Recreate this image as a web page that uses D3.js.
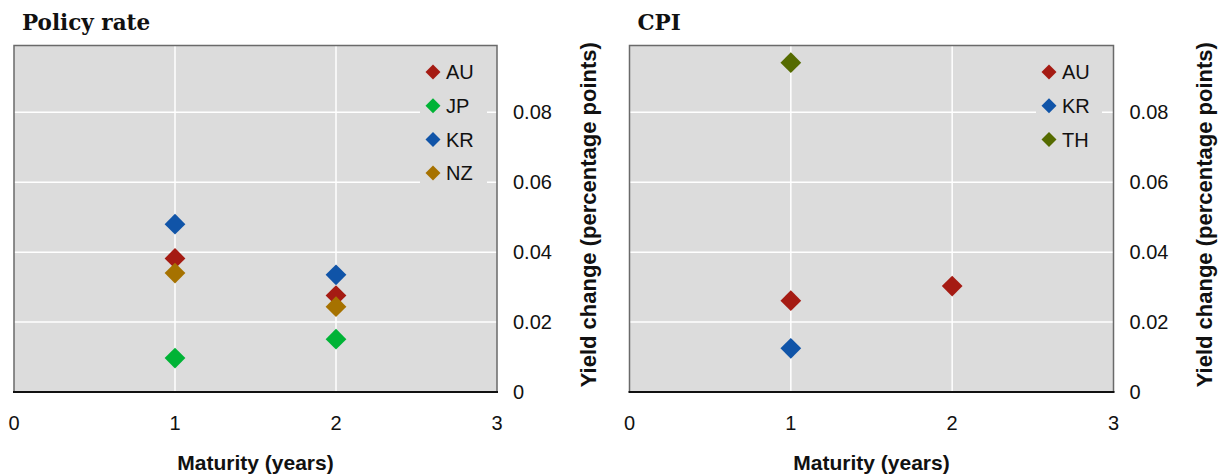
<!DOCTYPE html>
<html><head><meta charset="utf-8">
<script src="https://cdn.jsdelivr.net/npm/d3@7/dist/d3.min.js"></script>
<style>body{margin:0;background:#fff}svg{display:block}</style>
</head><body><svg id="c" width="1226" height="474"></svg>
<script>
const xTicks = [0, 1, 2, 3];
const yTicks = [0, 0.02, 0.04, 0.06, 0.08];
const yTickLabels = ["0", "0.02", "0.04", "0.06", "0.08"];

const policyCountries = ["AU", "JP", "KR", "NZ"];
const policyMaturity = [1, 2];
const policyAU = [0.0382, 0.0276];
const policyJP = [0.0097, 0.0151];
const policyKR = [0.048, 0.0335];
const policyNZ = [0.034, 0.0244];

const cpiCountries = ["AU", "KR", "TH"];
const cpiAUMaturity = [1, 2];
const cpiAU = [0.0261, 0.0303];
const cpiKRMaturity = [1];
const cpiKR = [0.0125];
const cpiTHMaturity = [1];
const cpiTH = [0.0942];

const colors = {AU: "#a51b13", JP: "#00b336", KR: "#1054a8", NZ: "#a67200", TH: "#556b00"};

const panels = [
  {title: "Policy rate", x0: 14, x1: 497, legendBox: [420, 52, 67, 136],
   series: [
     {name: "AU", xs: policyMaturity, ys: policyAU},
     {name: "JP", xs: policyMaturity, ys: policyJP},
     {name: "KR", xs: policyMaturity, ys: policyKR},
     {name: "NZ", xs: policyMaturity, ys: policyNZ}]},
  {title: "CPI", x0: 629.5, x1: 1113.5, legendBox: [1036, 52, 66, 102],
   series: [
     {name: "AU", xs: cpiAUMaturity, ys: cpiAU},
     {name: "KR", xs: cpiKRMaturity, ys: cpiKR},
     {name: "TH", xs: cpiTHMaturity, ys: cpiTH}]}
];

const svg = d3.select("#c");
const plotTop = 45.5, plotBottom = 392;
const sans = "'Liberation Sans', Arial, sans-serif";

panels.forEach(p => {
  const g = svg.append("g");
  const x = d3.scaleLinear().domain([0, 3]).range([p.x0, p.x1]);
  const y = d3.scaleLinear().domain([0, 0.0991]).range([plotBottom, plotTop]);

  g.append("rect").attr("x", p.x0).attr("y", plotTop).attr("width", p.x1 - p.x0).attr("height", plotBottom - plotTop)
    .attr("fill", "#dcdcdc");
  g.selectAll(".hg").data(yTicks.slice(1)).join("line")
    .attr("x1", p.x0).attr("x2", p.x1).attr("y1", d => y(d)).attr("y2", d => y(d))
    .attr("stroke", "#fff").attr("stroke-width", 1.5);
  g.selectAll(".vg").data(xTicks.slice(1, 3)).join("line")
    .attr("x1", d => x(d)).attr("x2", d => x(d)).attr("y1", plotTop).attr("y2", plotBottom)
    .attr("stroke", "#fff").attr("stroke-width", 1.5);
  g.append("path").attr("d", `M${p.x0},${plotBottom}V${plotTop}H${p.x1}V${plotBottom}`)
    .attr("fill", "none").attr("stroke", "#6a6a6a").attr("stroke-width", 1.5);
  g.append("line").attr("x1", p.x0 - 1).attr("x2", p.x1 + 1).attr("y1", plotBottom).attr("y2", plotBottom)
    .attr("stroke", "#111").attr("stroke-width", 2);

  const lb = p.legendBox;
  g.append("rect").attr("x", lb[0]).attr("y", lb[1]).attr("width", lb[2]).attr("height", lb[3]).attr("fill", "#dcdcdc");

  const big = d3.symbol().type(d3.symbolSquare).size(215);
  const small = d3.symbol().type(d3.symbolSquare).size(112);

  p.series.forEach((s, i) => {
    const pts = s.xs.map((xv, j) => [xv, s.ys[j]]);
    g.selectAll(null).data(pts).join("path")
      .attr("d", big)
      .attr("transform", d => `translate(${x(d[0])},${y(d[1])}) rotate(45)`)
      .attr("fill", colors[s.name]);
    const ly = 72 + i * 33.7;
    g.append("path").attr("d", small).attr("transform", `translate(${lb[0] + 13},${ly}) rotate(45)`)
      .attr("fill", colors[s.name]);
    g.append("text").attr("x", lb[0] + 26).attr("y", ly).attr("dy", "0.36em")
      .attr("font-family", sans).attr("font-size", 20).attr("fill", "#111").text(s.name);
  });

  g.selectAll(".yt").data(yTicks).join("text")
    .attr("x", p.x1 + 16).attr("y", d => y(d)).attr("dy", "0.36em")
    .attr("font-family", sans).attr("font-size", 20).attr("fill", "#111")
    .text((d, i) => yTickLabels[i]);
  g.selectAll(".xt").data(xTicks).join("text")
    .attr("x", d => x(d)).attr("y", 423).attr("dy", "0.36em").attr("text-anchor", "middle")
    .attr("font-family", sans).attr("font-size", 20).attr("fill", "#111").text(d => d);
  g.append("text").attr("x", (p.x0 + p.x1) / 2).attr("y", 462).attr("dy", "0.36em").attr("text-anchor", "middle")
    .attr("font-family", sans).attr("font-weight", "bold").attr("font-size", 21).attr("fill", "#111")
    .text("Maturity (years)");
  g.append("text").attr("transform", `translate(${p.x1 + 91},${(plotTop + plotBottom) / 2 - 4}) rotate(-90)`)
    .attr("dy", "0.36em").attr("text-anchor", "middle")
    .attr("font-family", sans).attr("font-weight", "bold").attr("font-size", 22).attr("fill", "#111")
    .text("Yield change (percentage points)");
  g.append("text").attr("x", p.x0 + 8).attr("y", 30)
    .attr("font-family", "'DejaVu Serif', serif").attr("font-weight", "bold")
    .attr("font-size", 21.5).attr("fill", "#111").text(p.title);
});
</script></body></html>
